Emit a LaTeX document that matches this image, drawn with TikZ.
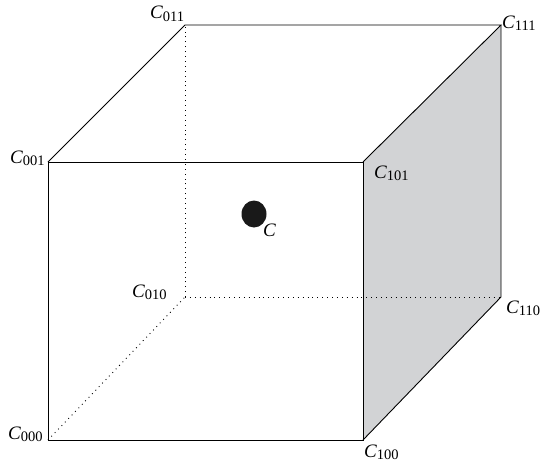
\documentclass[tikz,border=0pt]{standalone}
\usepackage{fontspec}
\setmainfont{Liberation Serif}
\newcommand{\lbl}[1]{\fontsize{19}{22}\selectfont\itshape C\upshape\raisebox{-0.3ex}{\fontsize{14.5}{16}\selectfont #1}}
\definecolor{facegray}{HTML}{D2D3D5}
\begin{document}
\begin{tikzpicture}[x=1pt,y=-1pt,
  edge/.style={draw=black,line width=0.9pt},
  hidden/.style={draw=black,line width=0.9pt,dash pattern=on 0.9pt off 4pt},
  lab/.style={inner sep=0pt,anchor=base west}]
\useasboundingbox (0,0) rectangle (544,463);
\coordinate (c000) at (48,440);
\coordinate (c100) at (363,440);
\coordinate (c001) at (48,162);
\coordinate (c101) at (363,162);
\coordinate (c011) at (185,25);
\coordinate (c111) at (501,25);
\coordinate (c010) at (185,297);
\coordinate (c110) at (501,297);
\fill[facegray] (c100) -- (c110) -- (c111) -- (c101) -- cycle;
\draw[hidden] (c000) -- (c010);
\draw[hidden] (c010) -- (c110);
\draw[hidden] (c010) -- (c011);
\draw[edge] (c000) -- (c100) -- (c101) -- (c001) -- cycle;
\draw[edge] (c001) -- (c011) -- (c111) -- (c101);
\draw[edge] (c111) -- (c110) -- (c100);
\fill[black!90] (254,214) ellipse [x radius=12.5, y radius=13.5];
\node[lab] (l000) at (8,439) {\lbl{000}};
\node[lab] (l100) at (364,457) {\lbl{100}};
\node[lab] (l001) at (10,163) {\lbl{001}};
\node[lab] (l101) at (374,178) {\lbl{101}};
\node[lab] (l011) at (150,19) {\lbl{011}};
\node[lab] (l111) at (502,28) {\lbl{111}};
\node[lab] (l010) at (132,297) {\lbl{010}};
\node[lab] (l110) at (506,313) {\lbl{110}};
\node[lab] (lc) at (263,236) {\fontsize{19}{22}\selectfont\itshape C};
\end{tikzpicture}
\end{document}
